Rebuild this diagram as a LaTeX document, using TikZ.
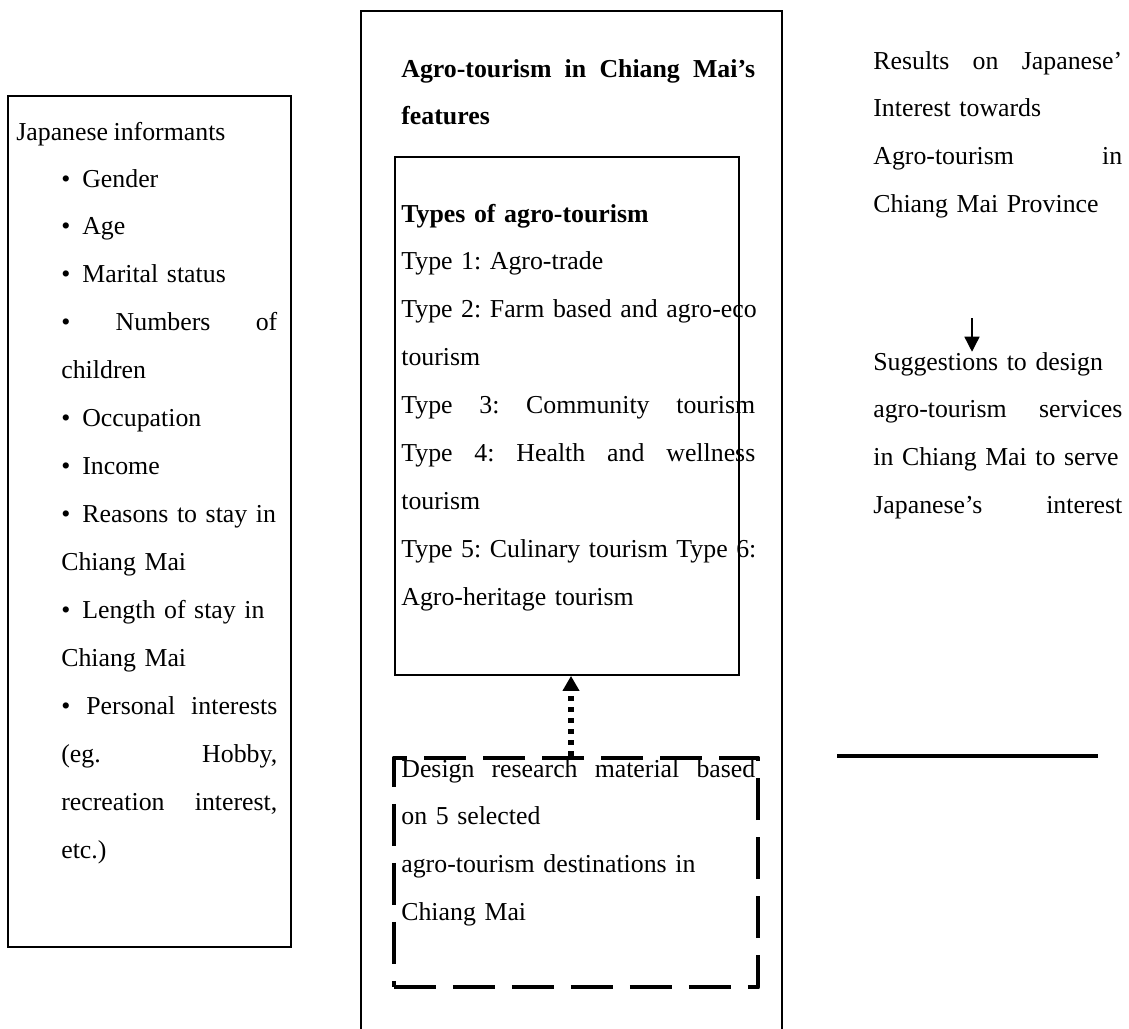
\documentclass[tikz,border=0pt]{standalone}
\usepackage{fontspec}
\setmainfont{Liberation Serif}[WordSpace=0.85]
\usetikzlibrary{fit,arrows.meta}
\frenchspacing
\newcommand{\itm}{\makebox[0.42cm][l]{\textbullet}}

\begin{document}
\begin{tikzpicture}[x=0.02cm, y=-0.02cm,
  box/.style={draw, line width=1pt, inner sep=0pt},
  dashbox/.style={draw, line width=2.8pt, inner sep=0pt, line join=round, dash pattern=on 0.84cm off 0.34cm},
  txt/.style={anchor=base west, inner sep=0pt, execute at begin node={\parindent=0pt}, font=\fontsize{14.7}{27.3}\selectfont},
  dotarrow/.style={line width=3pt, dash pattern=on 0.1cm off 0.12cm, -{Triangle[width=0.32cm,length=0.3cm]}},
  arr/.style={line width=0.8pt, -{Triangle[width=0.3cm,length=0.3cm]}}]
\useasboundingbox (0,0) rectangle (1129,1028);
% boxes
\node (infobox) [box, fit={(8,96) (291,947)}] {};
\node (featbox) [box, fit={(361,11) (782,1040)}] {};
\node (typebox) [box, fit={(395,157) (739,675)}] {};
\node (dashbox) [dashbox, fit={(394,758) (758,987)}] {};
% left column
\node (informants) [txt] at (16,140) {Japanese informants};
\node (infolist) [txt, text width=4.32cm] at (61,187) {\itm Gender\\
\itm Age\\
\itm Marital status\\
\textbullet\hfill Numbers\hfill of\\
children\\
\itm Occupation\\
\itm Income\\
\mbox{\itm Reasons to stay in}\\
Chiang Mai\\
\mbox{\itm Length of stay in}\\
Chiang Mai\\
\textbullet\hfill Personal\hfill interests\\
(eg.\hfill Hobby,\\
recreation\hfill interest,\\
etc.)};
% middle column
\node (feathead) [txt, text width=7.08cm] at (401,77) {\textbf{Agro-tourism\hfill in\hfill Chiang\hfill Mai’s}\\
\textbf{features}};
\node (typelist) [txt, text width=7.08cm] at (401,222) {\textbf{Types of agro-tourism}\\
Type 1: Agro-trade\\
\mbox{Type 2: Farm based and agro-eco}\\
tourism\\
Type\hfill 3:\hfill Community\hfill tourism\\
Type\hfill 4:\hfill Health\hfill and\hfill wellness\\
tourism\\
\mbox{Type 5: Culinary tourism Type 6:}\\
Agro-heritage tourism};
\node (design) [txt, text width=7.08cm] at (401,777) {Design\hfill research\hfill material\hfill based\\
on 5 selected\\
\mbox{agro-tourism destinations in}\\
Chiang Mai};
\draw[dotarrow] ([xshift=-0.1cm]dashbox.north) -- ([xshift=-0.1cm]dashbox.north |- typebox.south);
% right column
\node (results) [txt, text width=4.98cm] at (873,69) {Results\hfill on\hfill Japanese’\\
Interest towards\\
Agro-tourism\hfill in\\
\mbox{Chiang Mai Province}};
\node (sugg) [txt, text width=4.98cm] at (873,370) {\mbox{Suggestions to design}\\
agro-tourism\hfill services\\
\mbox{in Chiang Mai to serve}\\
Japanese’s\hfill interest};
\coordinate (arrtop) at (972,318);
\draw[arr] (arrtop) -- (arrtop |- sugg.north);
\coordinate (rulel) at (837,756);
\coordinate (ruler) at (1098,756);
\draw[line width=1.8pt] (rulel) -- (ruler);
\end{tikzpicture}
\end{document}
